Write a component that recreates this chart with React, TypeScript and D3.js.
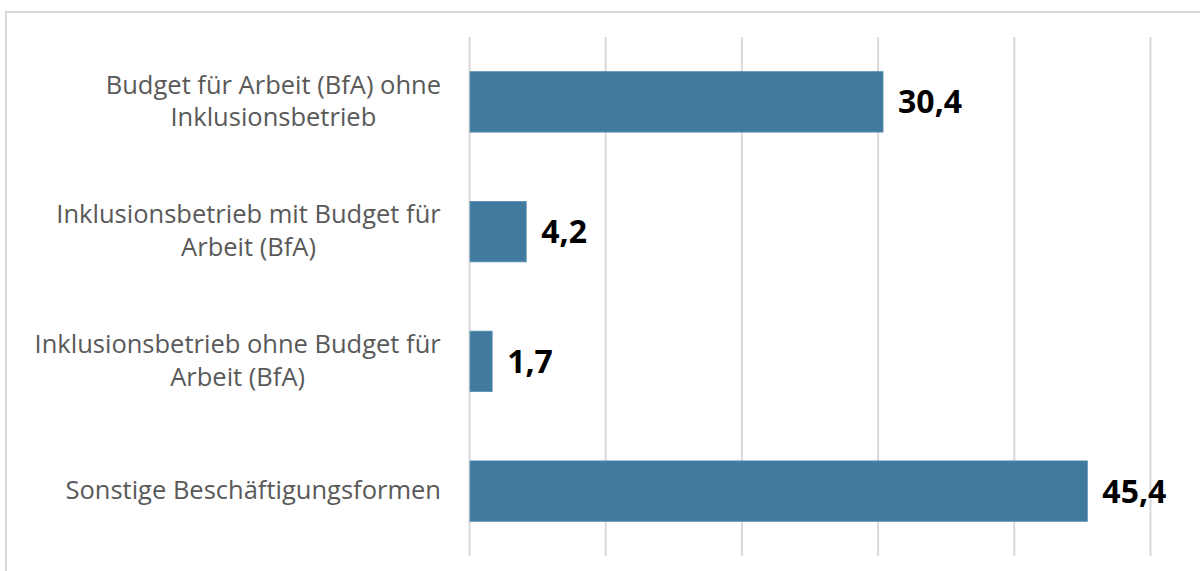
import React from "react";
import * as d3 from "d3";

// Kategorien (von oben nach unten) und Werte in %
const categories: string[][] = [
  ["Budget für Arbeit (BfA) ohne", "Inklusionsbetrieb"],
  ["Inklusionsbetrieb mit Budget für", "Arbeit (BfA)"],
  ["Inklusionsbetrieb ohne Budget für", "Arbeit (BfA)"],
  ["Sonstige Beschäftigungsformen"],
];
const values: number[] = [30.4, 4.2, 1.7, 45.4];
const xTicks: number[] = [0, 10, 20, 30, 40, 50];

const width = 1200;
const height = 571;

const App = () => {
  const svgRef = React.useRef<SVGSVGElement>(null);

  React.useEffect(() => {
    const svgEl = d3.select(svgRef.current);
    svgEl.selectAll("*").remove();

    const plotLeft = 469;
    const plotRight = 1150;
    const plotTop = 37;
    const plotBottom = 556;

    const xScale = d3.scaleLinear().domain([0, 50]).range([plotLeft, plotRight]);
    const yScale = d3
      .scaleBand<number>()
      .domain(d3.range(values.length))
      .range([plotTop, plotBottom])
      .paddingInner(0.534)
      .paddingOuter(0.267);

    // Rahmen (rechts/unten abgeschnitten)
    svgEl
      .append("rect")
      .attr("x", 6)
      .attr("y", 12)
      .attr("width", width + 20)
      .attr("height", height + 20)
      .attr("fill", "white")
      .attr("stroke", "#d9d9d9")
      .attr("stroke-width", 2);

    // Gitterlinien
    const xAxis = d3
      .axisBottom(xScale)
      .tickValues(xTicks)
      .tickSize(-(plotBottom - plotTop))
      .tickFormat(() => "");
    const grid = svgEl
      .append("g")
      .attr("transform", `translate(0,${plotBottom})`)
      .call(xAxis);
    grid.select(".domain").remove();
    grid.selectAll("line").attr("stroke", "#d9d9d9").attr("stroke-width", 2);

    // Balken
    svgEl
      .append("g")
      .selectAll("rect")
      .data(values)
      .enter()
      .append("rect")
      .attr("x", xScale(0) + 1)
      .attr("y", (_d, i) => yScale(i)!)
      .attr("width", (d) => xScale(d) - xScale(0) - 1)
      .attr("height", yScale.bandwidth())
      .attr("fill", "#407b9f")
      .attr("stroke", "#5a8fb0")
      .attr("stroke-width", 0.8);

    // Werte
    svgEl
      .append("g")
      .selectAll("text")
      .data(values)
      .enter()
      .append("text")
      .attr("x", (d) => xScale(d) + 15)
      .attr("y", (_d, i) => yScale(i)! + yScale.bandwidth() / 2 + 11.5)
      .attr("font-family", "'Open Sans', sans-serif")
      .attr("font-weight", "bold")
      .attr("font-size", 32)
      .attr("fill", "#000")
      .text((d) => d.toFixed(1).replace(".", ","));

    // Kategorien
    const lineHeight = 32.6;
    const labels = svgEl
      .append("g")
      .selectAll("text")
      .data(categories)
      .enter()
      .append("text")
      .attr("text-anchor", "middle")
      .attr("font-family", "'Open Sans', sans-serif")
      .attr("font-size", 25.5)
      .attr("fill", "#595959");
    labels.each(function (lines, i) {
      const cy = yScale(i)! + yScale.bandwidth() / 2;
      const first = cy - ((lines.length - 1) * lineHeight) / 2 + 8;
      lines.forEach((line, j) => {
        d3.select(this)
          .append("tspan")
          .attr("x", 0)
          .attr("y", first + j * lineHeight)
          .text(line);
      });
    });
    // rechtsbündig am Plot, Zeilen zentriert zueinander
    labels.each(function () {
      const bb = (this as SVGTextElement).getBBox();
      d3.select(this).attr("transform", `translate(${441 - bb.width / 2},0)`);
    });
  }, []);

  return (
    <svg
      ref={svgRef}
      width={width}
      height={height}
      style={{ position: "absolute", left: 0, top: 0, background: "white" }}
    />
  );
};

export default App;
